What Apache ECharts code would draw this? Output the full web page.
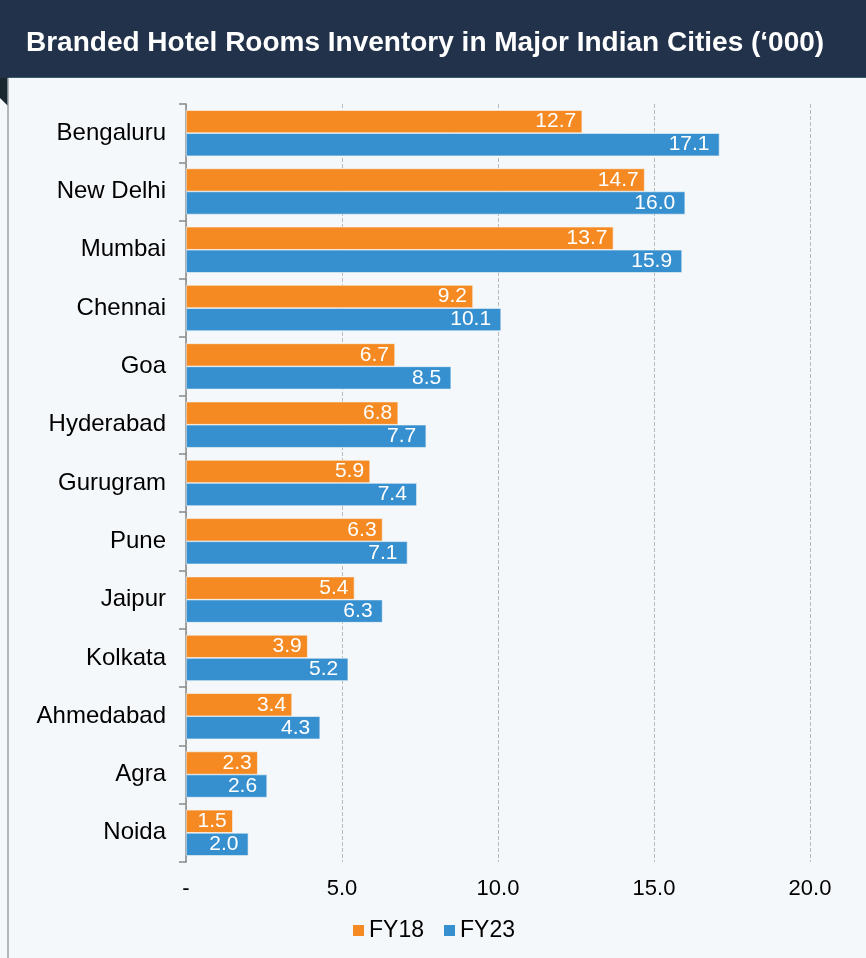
<!DOCTYPE html>
<html>
<head>
<meta charset="utf-8">
<script src="https://cdn.jsdelivr.net/npm/echarts@6/dist/echarts.min.js"></script>
<style>html,body{margin:0;padding:0;background:#f5f8fa;}#c{width:866px;height:958px;}</style>
</head>
<body>
<div id="c"></div>
<script>
const cities = ['Bengaluru','New Delhi','Mumbai','Chennai','Goa','Hyderabad','Gurugram','Pune','Jaipur','Kolkata','Ahmedabad','Agra','Noida'];
const fy18 = [12.7,14.7,13.7,9.2,6.7,6.8,5.9,6.3,5.4,3.9,3.4,2.3,1.5];
const fy23 = [17.1,16.0,15.9,10.1,8.5,7.7,7.4,7.1,6.3,5.2,4.3,2.6,2.0];
const seriesNames = ['FY18','FY23'];
const titleText = 'Branded Hotel Rooms Inventory in Major Indian Cities (\u2018000)';

const chart = echarts.init(document.getElementById('c'));
const font = 'Liberation Sans, Arial, sans-serif';
const mkLbl = d => ({show:true, position:'insideRight', distance:d, color:'#fff', fontSize:21, fontFamily:font, formatter:p=>p.value.toFixed(1)});
chart.setOption({
  backgroundColor:'#f5f8fa',
  animation:false,
  graphic:[
    {type:'rect', shape:{x:0,y:0,width:866,height:78}, style:{fill:'#22324a'}, z:0},
    {type:'line', shape:{x1:8,y1:77.5,x2:866,y2:77.5}, style:{stroke:'#3c5a6a',lineWidth:1}},
    {type:'polygon', shape:{points:[[0,78],[8,78],[8,106],[0,98]]}, style:{fill:'#18282e'}},
    {type:'line', shape:{x1:8,y1:78,x2:8,y2:958}, style:{stroke:'#9aa3a8',lineWidth:1.5}},
    {type:'text', left:26, top:29, style:{text:titleText, fill:'#fff', font:'bold 28px '+font}}
  ],
  grid:{left:186, right:56, top:104, bottom:96, containLabel:false},
  legend:{data:seriesNames, bottom:11, left:'center', itemWidth:13, itemHeight:13, itemGap:18, icon:'rect',
    textStyle:{fontSize:23, fontFamily:font, color:'#000', padding:[0,0,0,-1]}},
  xAxis:{type:'value', min:0, max:20, interval:5,
    axisLine:{show:false}, axisTick:{show:false},
    splitLine:{show:true, lineStyle:{type:'dashed', color:'#bbbbbb', width:1}},
    axisLabel:{fontSize:22, fontFamily:font, color:'#000', margin:16, formatter:v=>v===0?'-':v.toFixed(1)}},
  yAxis:{type:'category', data:cities, inverse:true,
    axisLine:{show:true, lineStyle:{color:'#888', width:1.5}},
    axisTick:{show:true, length:7, lineStyle:{color:'#888', width:1.5}},
    axisLabel:{fontSize:24, fontFamily:font, color:'#000', margin:20}},
  series:[
    {name:seriesNames[0], type:'bar', data:fy18, barGap:'0%', barCategoryGap:'21%', itemStyle:{color:'#f58a23', borderColor:'#f5f8fa', borderWidth:0.6}, label:mkLbl(6)},
    {name:seriesNames[1], type:'bar', data:fy23, itemStyle:{color:'#3690d0', borderColor:'#f5f8fa', borderWidth:0.6}, label:mkLbl(10)}
  ]
});
</script>
</body>
</html>
